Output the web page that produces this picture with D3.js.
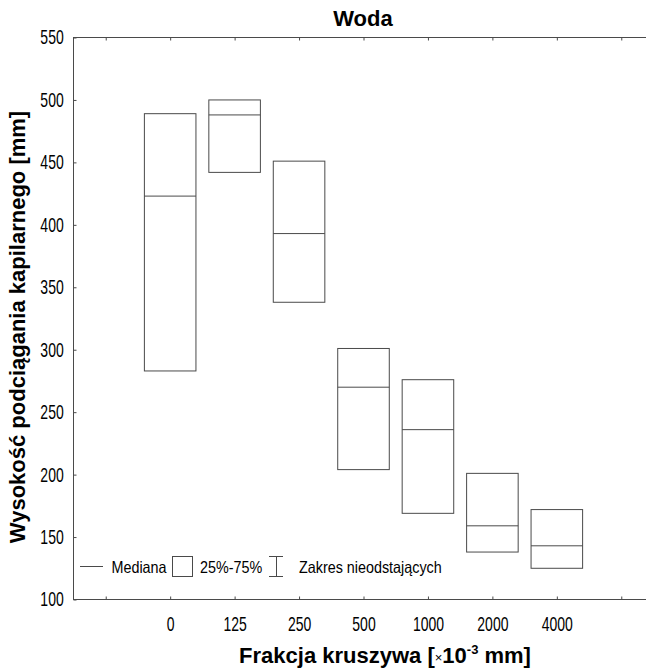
<!DOCTYPE html>
<html>
<head>
<meta charset="utf-8">
<script src="https://cdn.jsdelivr.net/npm/d3@7"></script>
<style>
  body { margin: 0; background: #fff; }
  svg { display: block; }
  text { font-family: "Liberation Sans", Arial, sans-serif; fill: #000; }
</style>
</head>
<body>
<div id="chart"></div>
<script>
// slots on the x axis (first and last are empty)
const slots = ["s0", "0", "125", "250", "500", "1000", "2000", "4000", "s9"];
const fractions = ["0", "125", "250", "500", "1000", "2000", "4000"];
// box values [mm]
const q1 = [283, 442, 338, 204, 169, 138, 125];
const medians = [423, 488, 393, 270, 236, 159, 143];
const q3 = [489, 500, 451, 301, 276, 201, 172];
const yTicks = [100, 150, 200, 250, 300, 350, 400, 450, 500, 550];
const legendItems = ["Mediana", "25%-75%", "Zakres nieodstających"];

const W = 646, H = 671;
const m = {top: 37, left: 73};
const pw = 580, ph = 562;
const lineCol = "#4a4a4a";

const svg = d3.select("#chart").append("svg")
    .attr("width", W)
    .attr("height", H);

const g = svg.append("g")
    .attr("transform", "translate(" + (m.left + 0.5) + "," + (m.top + 0.5) + ")");

const x = d3.scalePoint()
    .domain(slots)
    .range([0, pw])
    .padding(0.5);

const y = d3.scaleLinear()
    .domain([100, 550])
    .range([ph, 0]);

const boxW = x.step() * 0.8;

// frame
g.append("rect")
    .attr("width", pw)
    .attr("height", ph)
    .attr("fill", "none")
    .attr("stroke", lineCol)
    .attr("stroke-width", 1);

// bottom axis, ticks pointing inward
const xAxis = d3.axisBottom(x)
    .tickSizeInner(-3)
    .tickSizeOuter(0)
    .tickPadding(17)
    .tickFormat(d => d.startsWith("s") ? "" : d);

const gx = g.append("g")
    .attr("transform", "translate(0," + ph + ")")
    .call(xAxis);
gx.select(".domain").remove();
gx.selectAll("line").attr("stroke", lineCol);
gx.selectAll("text")
    .attr("font-size", 20)
    .attr("font-family", "'Liberation Sans', Arial, sans-serif")
    .attr("transform", "scale(0.7,1)");

// top axis mirror ticks
const gxt = g.append("g")
    .call(d3.axisTop(x).tickSizeInner(-3).tickSizeOuter(0).tickFormat(""));
gxt.select(".domain").remove();
gxt.selectAll("line").attr("stroke", lineCol);

// left axis
const yAxis = d3.axisLeft(y)
    .tickValues(yTicks)
    .tickSizeInner(-3)
    .tickSizeOuter(0)
    .tickPadding(14);

const gy = g.append("g").call(yAxis);
gy.select(".domain").remove();
gy.selectAll("line").attr("stroke", lineCol);
gy.selectAll("text")
    .attr("font-size", 20)
    .attr("font-family", "'Liberation Sans', Arial, sans-serif")
    .attr("transform", "scale(0.7,1)");

// boxes
const boxes = g.selectAll(".box")
    .data(fractions)
    .enter()
    .append("g")
    .attr("class", "box");

boxes.append("rect")
    .attr("x", d => x(d) - boxW / 2)
    .attr("y", (d, i) => y(q3[i]))
    .attr("width", boxW)
    .attr("height", (d, i) => y(q1[i]) - y(q3[i]))
    .attr("fill", "none")
    .attr("stroke", lineCol)
    .attr("stroke-width", 1);

boxes.append("line")
    .attr("x1", d => x(d) - boxW / 2)
    .attr("x2", d => x(d) + boxW / 2)
    .attr("y1", (d, i) => y(medians[i]))
    .attr("y2", (d, i) => y(medians[i]))
    .attr("stroke", lineCol)
    .attr("stroke-width", 1);

// legend
const lg = svg.append("g").attr("transform", "translate(0,566.5)");
lg.append("line")
    .attr("x1", 80).attr("x2", 103)
    .attr("stroke", lineCol);
lg.append("rect")
    .attr("x", 172.5).attr("y", -10)
    .attr("width", 20).attr("height", 20)
    .attr("fill", "none")
    .attr("stroke", lineCol);
lg.append("path")
    .attr("d", "M269,-10H283M276.5,-10V10M269,10H283")
    .attr("fill", "none")
    .attr("stroke", lineCol);

const legendX = [111.5, 200, 299];
legendItems.forEach((t, i) => {
    lg.append("text")
        .attr("transform", "translate(" + legendX[i] + ",0) scale(0.87,1)")
        .attr("y", 6)
        .attr("font-size", 16.5)
        .text(t);
});

// title
svg.append("text")
    .attr("x", m.left + pw / 2)
    .attr("y", 26)
    .attr("text-anchor", "middle")
    .attr("font-size", 22)
    .attr("font-weight", "bold")
    .text("Woda");

// y axis title
svg.append("text")
    .attr("transform", "translate(25,327) rotate(-90)")
    .attr("text-anchor", "middle")
    .attr("font-size", 22)
    .attr("font-weight", "bold")
    .text("Wysokość podciągania kapilarnego [mm]");

// x axis title
const xt = svg.append("text")
    .attr("x", 385)
    .attr("y", 663)
    .attr("text-anchor", "middle")
    .attr("font-size", 22)
    .attr("font-weight", "bold");
xt.append("tspan").text("Frakcja kruszywa [");
xt.append("tspan").attr("font-size", 13).attr("font-weight", "normal").attr("dy", -1).text("×");
xt.append("tspan").attr("dy", 1).text("10");
xt.append("tspan").attr("font-size", 13).attr("dy", -9).text("-3");
xt.append("tspan").attr("dy", 9).text(" mm]");
</script>
</body>
</html>
